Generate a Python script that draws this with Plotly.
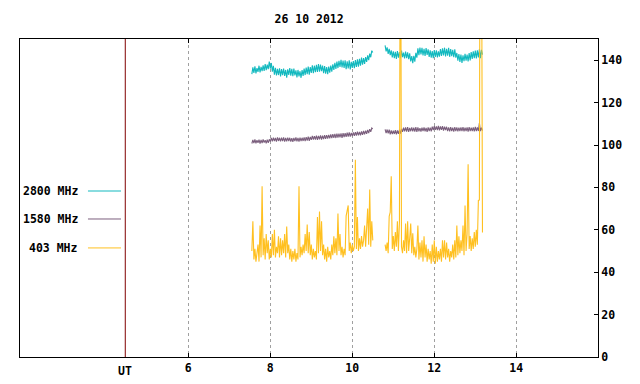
import numpy as np
import plotly.graph_objects as go

# ---------------- data ----------------
TITLE = "26 10 2012"
SERIES_NAMES = ["2800 MHz", "1580 MHz", "403 MHz"]
X_TICKS = [6, 8, 10, 12, 14]
X_TICK_TEXT = ["6", "8", "10", "12", "14"]
Y_TICKS = [0, 20, 40, 60, 80, 100, 120, 140]
UT_POS = 4.463          # hour position of the "UT" marker line

STEP_H = 0.025          # sampling step, hours
SEG1_START = 7.55       # first recording segment start (UT hours)
SEG2_START = 10.80      # second recording segment start (UT hours)

flux2800_seg1 = [
    133.4, 136.6, 134.0, 137.1, 133.8, 136.3, 134.5, 137.4, 134.2, 136.9,
    134.8, 137.6, 135.0, 138.2, 135.3, 137.9, 135.8, 139.4, 136.0, 138.7,
    134.6, 137.3, 133.2, 136.4, 132.8, 135.9, 133.0, 136.2, 132.4, 135.8,
    132.9, 136.1, 132.6, 135.4, 131.8, 135.7, 133.1, 136.3, 132.7, 135.9,
    132.5, 136.0, 132.8, 135.2, 131.9, 135.4, 132.3, 134.8, 131.7, 135.3,
    132.6, 136.1, 133.0, 136.5, 133.4, 137.0, 133.2, 136.8, 134.0, 137.6,
    133.9, 137.4, 134.3, 137.8, 134.5, 138.2, 134.6, 137.9, 134.8, 137.5,
    133.9, 137.2, 133.6, 136.8, 133.4, 137.0, 134.1, 137.5, 134.6, 138.1,
    135.4, 138.8, 135.9, 139.4, 136.3, 139.7, 136.8, 140.2, 136.6, 139.8,
    136.3, 139.9, 135.8, 139.5, 136.1, 140.0, 135.7, 139.2, 136.4, 139.6,
    136.2, 140.1, 136.8, 140.4, 137.0, 140.6, 137.4, 141.2, 137.9, 141.0,
    138.3, 141.5, 139.2, 142.3, 140.0, 143.1, 141.4, 144.5, 143.6,
]
flux2800_seg2 = [
    147.0, 144.2, 146.1, 143.0, 145.3, 142.4, 144.6, 141.3, 144.2, 141.0,
    143.9, 140.6, 144.3, 141.2, 143.8, 140.9, 144.5, 141.4, 143.6, 140.8,
    144.1, 141.0, 143.7, 140.5, 143.2, 139.4, 141.9, 138.6, 142.1, 139.3,
    143.5, 141.2, 145.6, 142.4, 146.0, 142.7, 145.8, 142.3, 145.4, 142.0,
    145.7, 142.5, 145.1, 141.6, 144.6, 141.2, 144.3, 141.0, 144.8, 141.5,
    144.6, 141.3, 144.2, 141.7, 145.3, 142.0, 145.6, 142.2, 145.9, 141.8,
    145.4, 142.1, 145.8, 141.6, 145.2, 141.9, 144.9, 141.4, 145.1, 141.2,
    143.4, 139.8, 142.9, 139.2, 142.6, 138.7, 142.3, 139.5, 143.0, 139.8,
    142.7, 139.4, 143.4, 139.9, 143.8, 140.6, 144.2, 141.0, 144.5, 140.8,
    144.7, 141.3, 145.1, 141.0, 144.9, 142.6,
]

flux1580_seg1 = [
    100.7, 102.4, 100.9, 102.6, 100.8, 102.3, 101.0, 102.5, 100.6, 102.4,
    100.9, 102.6, 101.1, 102.3, 100.8, 102.5, 101.0, 102.7, 101.6, 103.4,
    101.7, 103.5, 101.8, 103.3, 101.6, 103.6, 101.9, 103.4, 101.7, 103.5,
    101.8, 103.6, 101.6, 103.3, 101.7, 103.5, 101.9, 103.4, 101.6, 103.2,
    101.5, 103.4, 101.8, 103.6, 101.7, 103.3, 101.6, 103.5, 101.8, 103.4,
    101.9, 103.6, 101.8, 103.7, 102.1, 104.0, 102.0, 103.8, 102.4, 104.3,
    102.5, 104.2, 102.6, 104.4, 102.4, 104.3, 102.7, 104.5, 102.6, 104.4,
    102.8, 104.6, 102.9, 104.7, 103.0, 104.8, 103.1, 105.0, 103.2, 105.1,
    103.4, 105.2, 103.3, 105.4, 103.5, 105.3, 103.6, 105.5, 103.4, 105.6,
    103.7, 105.6, 103.8, 105.8, 104.0, 105.9, 103.9, 105.7, 104.2, 106.0,
    104.3, 106.1, 104.4, 106.3, 104.5, 106.2, 104.6, 106.4, 104.8, 106.6,
    105.0, 106.8, 105.3, 107.1, 105.6, 107.5, 106.2, 108.0, 107.6,
]
flux1580_seg2 = [
    107.4, 105.6, 107.3, 105.5, 107.2, 105.0, 106.9, 105.1, 106.8, 105.2,
    107.0, 105.0, 106.9, 105.3, 107.1, 105.4, 107.6, 106.2, 108.2, 106.4,
    108.3, 106.3, 108.4, 106.2, 108.1, 106.5, 108.3, 106.4, 108.2, 106.3,
    108.4, 106.2, 108.3, 106.4, 108.0, 106.3, 108.2, 106.5, 108.3, 106.4,
    108.1, 106.2, 108.3, 106.5, 108.2, 106.4, 108.7, 107.0, 108.9, 107.1,
    108.8, 107.0, 109.0, 106.9, 108.8, 107.1, 108.9, 106.8, 108.7, 107.0,
    108.6, 106.5, 108.3, 106.4, 108.4, 106.6, 108.2, 106.3, 108.4, 106.5,
    108.3, 106.4, 108.2, 106.6, 108.3, 106.5, 108.4, 106.4, 108.2, 106.6,
    108.3, 106.3, 108.4, 106.5, 108.2, 106.6, 108.3, 106.4, 108.5, 106.5,
    108.3, 106.6, 110.3, 106.5, 108.2, 106.8,
]

flux403_seg1 = [
    50, 64, 46, 51, 45, 49, 53, 45, 62, 47,
    80.5, 48, 56, 46, 58, 49, 55, 46, 51, 47,
    58, 48, 60, 47, 52, 49, 57, 47, 56, 48,
    55, 49, 58, 47, 61.5, 49, 53, 46, 51, 45,
    50, 46, 51, 45, 49, 46, 80.5, 47, 52, 48,
    53, 49, 58, 50, 62.5, 49, 59, 48, 53, 46,
    51, 47, 50, 46, 66, 49, 68.6, 50, 64, 48,
    53, 46, 51, 45, 52, 47, 50, 46, 53, 48,
    57, 49, 56, 48, 67.7, 50, 58, 48, 52, 47,
    51, 48, 66.6, 69, 71.5, 50, 54, 49, 53, 50,
    52, 93, 51, 66, 50, 56, 51, 57, 52, 55,
    62, 52, 60, 70, 53, 79, 52, 64, 55,
]
flux403_seg2 = [
    53, 50, 54, 49, 66.3, 68.3, 85.2, 51, 57, 50,
    59, 52, 64, 50, 63.6, 260, 52, 49, 55, 50,
    63, 49, 64, 50, 56, 63, 49, 58.4, 48, 52,
    47, 51, 62, 46, 54, 47, 55, 45, 57, 47,
    53, 45, 51, 46, 50, 44, 53, 45, 55, 44,
    52, 45, 50, 46, 51, 45, 55, 47, 55, 46,
    54, 47, 51, 45, 50, 47, 53, 46, 55, 47,
    62, 48, 57, 49, 55, 50, 62, 48, 71.5, 50,
    58, 90.9, 51, 57, 50, 56, 51, 59, 52, 60,
    53, 73.9, 74, 300, 220, 58.7,
]

# ---------------- build ----------------
t1 = list(SEG1_START + STEP_H * np.arange(len(flux2800_seg1)))
t2 = list(SEG2_START + STEP_H * np.arange(len(flux2800_seg2)))
times = t1 + [None] + t2

series = [
    (SERIES_NAMES[0], flux2800_seg1 + [None] + flux2800_seg2, "#12b9bf"),
    (SERIES_NAMES[1], flux1580_seg1 + [None] + flux1580_seg2, "#7b5f7d"),
    (SERIES_NAMES[2], flux403_seg1 + [None] + flux403_seg2, "#ffc020"),
]

FONT = dict(family="DejaVu Sans Mono", size=11.5, color="#000000", weight="bold")

fig = go.Figure()
for name, vals, col in series:
    fig.add_trace(go.Scatter(
        x=times, y=vals, mode="lines", name=name,
        line=dict(color=col, width=1.1), connectgaps=False,
        showlegend=False, hoverinfo="skip",
    ))

# gnuplot-style key on the left: text then line sample
key_y = [0.522, 0.434, 0.343]
for (name, _, col), ky in zip(series, key_y):
    fig.add_annotation(x=0.104, y=ky, xref="paper", yref="paper",
                       text=name, showarrow=False, xanchor="right",
                       yanchor="middle", font=FONT)
    fig.add_shape(type="line", xref="paper", yref="paper",
                  x0=0.1176, x1=0.1747, y0=ky, y1=ky,
                  line=dict(color=col, width=1))

# UT marker line
fig.add_shape(type="line", xref="x", yref="paper", x0=UT_POS, x1=UT_POS,
              y0=0, y1=1, line=dict(color="#800000", width=1), layer="above")
fig.add_annotation(x=UT_POS, y=0, xref="x", yref="paper", text="UT",
                   showarrow=False, yanchor="top", yshift=-5, font=FONT)

fig.update_layout(
    width=640, height=384,
    margin=dict(l=20, r=42, t=39, b=27),
    paper_bgcolor="white", plot_bgcolor="white",
    font=FONT,
    title=dict(text=TITLE, x=0.483, xanchor="center", y=1 - 19 / 384,
               yanchor="middle", yref="container", font=FONT),
    showlegend=False,
)
fig.update_xaxes(
    range=[1.895, 15.993], tickvals=X_TICKS, ticktext=X_TICK_TEXT,
    ticks="inside", ticklen=4, tickcolor="#000000", automargin=False,
    showline=True, linecolor="#000000", linewidth=1, mirror="allticks",
    showgrid=True, gridcolor="#a0a0a0", griddash="dot", gridwidth=1,
    zeroline=False, tickfont=FONT,
)
fig.update_yaxes(
    range=[0, 150], tickvals=Y_TICKS, side="right", automargin=False,
    ticks="inside", ticklen=4, tickcolor="#000000",
    showline=True, linecolor="#000000", linewidth=1, mirror=True,
    showgrid=False, zeroline=False, tickfont=FONT,
)

fig.write_html(
    "out.html",
    config={"displayModeBar": False, "staticPlot": True},
    post_script="document.body.style.margin='0';",
)
